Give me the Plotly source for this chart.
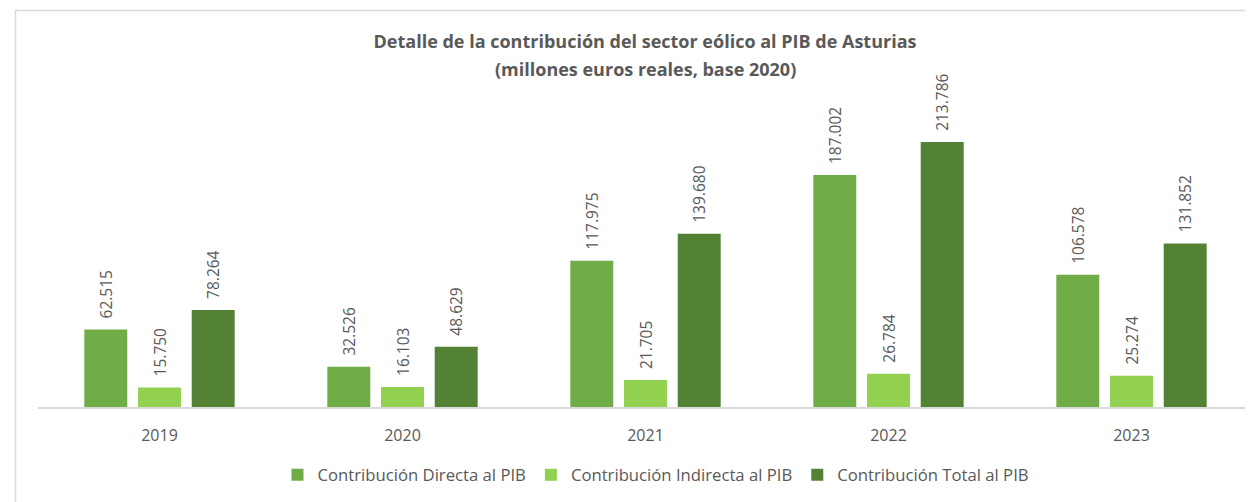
import plotly.graph_objects as go

years = ["2019", "2020", "2021", "2022", "2023"]
directa = [62.515, 32.526, 117.975, 187.002, 106.578]
indirecta = [15.750, 16.103, 21.705, 26.784, 25.274]
total = [78.264, 48.629, 139.680, 213.786, 131.852]

series_names = ["Contribución Directa al PIB", "Contribución Indirecta al PIB", "Contribución Total al PIB"]
series_colors = ["#70AD47", "#92D050", "#548235"]

title_line1 = "Detalle de la contribución del sector eólico al PIB de Asturias"
title_line2 = "(millones euros reales, base 2020)"

FONT = "Open Sans"
GRAY = "#595959"
NB = "\u00a0"

fig = go.Figure()
for name, vals, col in zip(series_names, [directa, indirecta, total], series_colors):
    fig.add_trace(go.Bar(
        x=years, y=vals, name=name,
        marker=dict(color=col, line=dict(width=0)),
        text=[NB * 2 + f"{v:.3f}" for v in vals],
        textposition="outside",
        textangle=-90,
        constraintext="none",
        cliponaxis=False,
        textfont=dict(family=FONT, size=15.5, color=GRAY),
    ))

# page has 8px body margin; figure coords = window coords - 8
W, H = 1245, 494
L, R, T, B = 30, 0, 89, 95
pw, ph = W - L - R, H - T - B

def px_x(px):
    return (px - L) / pw

def px_y(py):
    return (H - B - py) / ph

fig.update_layout(
    width=W, height=H,
    margin=dict(l=L, r=R, t=T, b=B, pad=0),
    paper_bgcolor="white", plot_bgcolor="white",
    barmode="group", bargap=0.337, bargroupgap=0.2,
    title=dict(
        text="<b>" + title_line1 + "</b>",
        x=(645 - 8) / W, xref="container", xanchor="center",
        y=1 - 34 / H, yanchor="middle",
        font=dict(family=FONT, size=18, color=GRAY),
    ),
    annotations=[dict(
        text="<b>" + title_line2 + "</b>", showarrow=False,
        xref="paper", yref="paper", x=px_x(645 - 8), y=px_y(69 - 8),
        xanchor="center", yanchor="middle",
        font=dict(family=FONT, size=18, color=GRAY),
    )],
    font=dict(family=FONT, color=GRAY),
    legend=dict(
        orientation="h", x=(656 - 8) / W, xanchor="center", xref="container",
        y=1 - 467 / H, yanchor="middle", yref="container",
        font=dict(family=FONT, size=16.7, color=GRAY),
        itemwidth=30, traceorder="normal",
    ),
    xaxis=dict(
        showline=True, linecolor="#D9D9D9", linewidth=1.5,
        ticks="", tickfont=dict(family=FONT, size=16, color=GRAY),
        ticklabelstandoff=13,
    ),
    yaxis=dict(range=[0, 250], visible=False, showgrid=False, zeroline=False),
    shapes=[dict(
        type="rect", xref="paper", yref="paper",
        x0=px_x(7.5), x1=px_x(1260), y0=px_y(2.5), y1=px_y(510),
        line=dict(color="#D9D9D9", width=1.5), fillcolor="rgba(0,0,0,0)", layer="below",
    )],
)

fig.write_html("out.html")
